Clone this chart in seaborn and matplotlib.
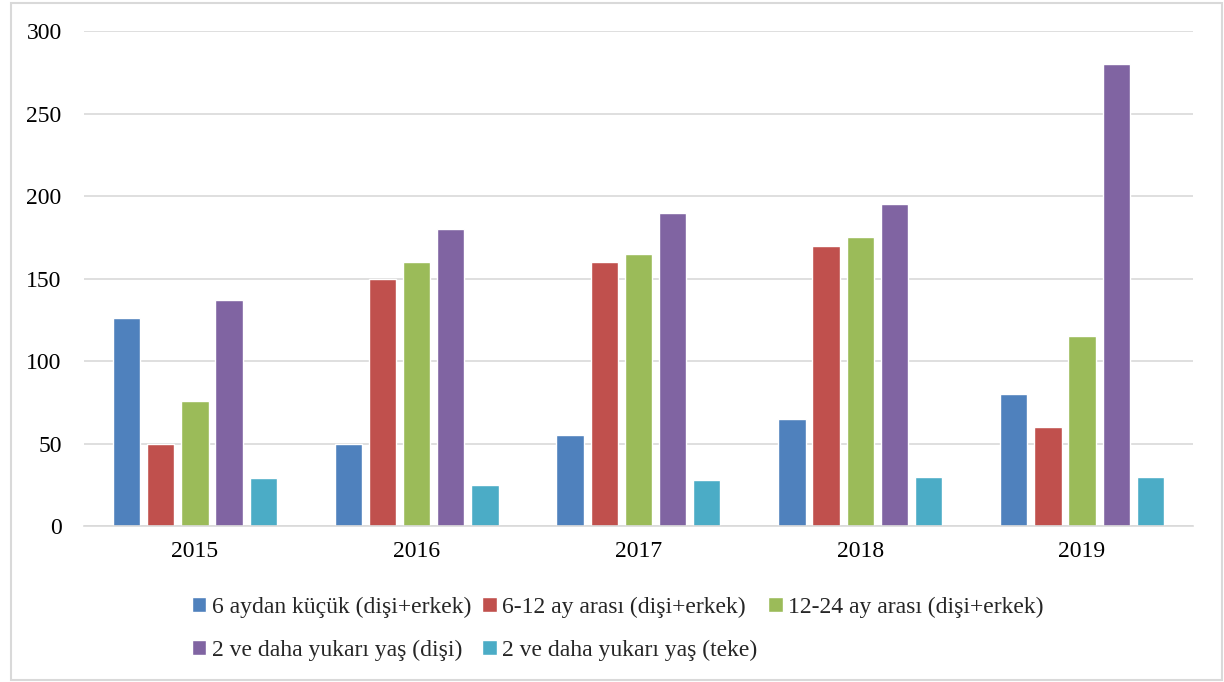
import matplotlib
matplotlib.use("Agg")
import matplotlib.pyplot as plt
from matplotlib.patches import Rectangle
import pandas as pd
import seaborn as sns

sns.set_style("white")
plt.rcParams["font.family"] = ["Liberation Serif", "DejaVu Serif"]

years = ["2015", "2016", "2017", "2018", "2019"]
groups = [
    "6 aydan küçük (dişi+erkek)",
    "6-12 ay arası (dişi+erkek)",
    "12-24 ay arası (dişi+erkek)",
    "2 ve daha yukarı yaş (dişi)",
    "2 ve daha yukarı yaş (teke)",
]
under_6 = [126, 50, 55, 65, 80]
m6_12 = [50, 150, 160, 170, 60]
m12_24 = [76, 160, 165, 175, 115]
over2_female = [137, 180, 190, 195, 280]
over2_male = [29, 25, 28, 30, 30]
colors = ["#4F81BD", "#C0504D", "#9BBB59", "#8064A2", "#4BACC6"]

rows = []
for g, vals in zip(groups, [under_6, m6_12, m12_24, over2_female, over2_male]):
    for y, v in zip(years, vals):
        rows.append({"Yıl": y, "Grup": g, "Sayı": v})
df = pd.DataFrame(rows)

fig = plt.figure(figsize=(12.24, 6.82), dpi=100)
ax = fig.add_axes([0.0686, 0.2287, 0.906, 0.7258])

sns.barplot(data=df, x="Yıl", y="Sayı", hue="Grup", hue_order=groups,
            palette=colors, width=0.77, gap=0.2, ax=ax, saturation=1)

ax.set_ylim(0, 300)
ax.set_yticks(range(0, 301, 50))
ax.yaxis.grid(True, color="#D9D9D9", linewidth=1.2)
ax.set_axisbelow(True)
ax.set_xlabel("")
ax.set_ylabel("")
ax.tick_params(axis="both", length=0, labelsize=17, colors="black")
ax.tick_params(axis="y", pad=16)
ax.tick_params(axis="x", pad=11)
for s in ["top", "right", "left"]:
    ax.spines[s].set_visible(False)
ax.spines["bottom"].set_color("#D9D9D9")
ax.spines["bottom"].set_linewidth(1.2)

handles, labels = ax.get_legend_handles_labels()
ax.legend_.remove()
order = [0, 3, 1, 4, 2]
fig.legend([handles[i] for i in order], [labels[i] for i in order],
           loc="center", bbox_to_anchor=(0.505, 0.078), ncol=3,
           frameon=False, fontsize=17, handlelength=0.6, handleheight=0.6,
           handletextpad=0.25, columnspacing=0.45, labelspacing=0.95)

fig.patches.append(Rectangle((0.009, 0.003), 0.989, 0.992, transform=fig.transFigure,
                             fill=False, edgecolor="#D9D9D9", linewidth=1.5))

fig.savefig("out.png", dpi=100)
